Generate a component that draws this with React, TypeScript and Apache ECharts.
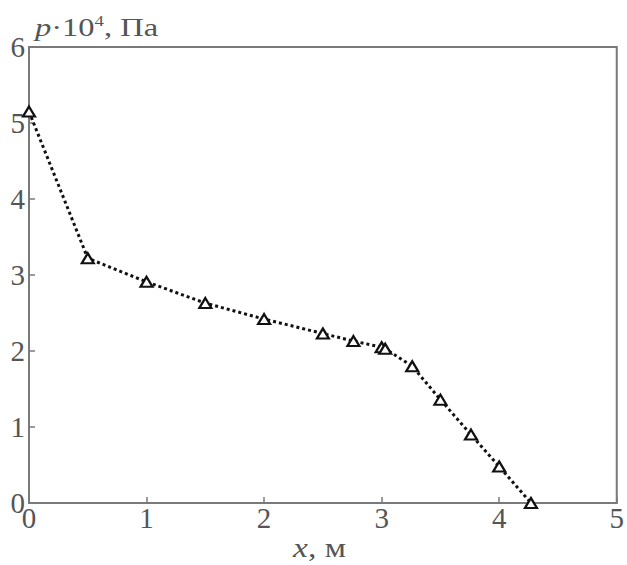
import React, { useEffect, useRef } from "react";
import * as echarts from "echarts";

const xValues = [0, 0.5, 1.0, 1.5, 2.0, 2.5, 2.76, 3.0, 3.03, 3.26, 3.5, 3.76, 4.0, 4.27];
const pValues = [5.15, 3.22, 2.91, 2.63, 2.42, 2.23, 2.13, 2.05, 2.03, 1.8, 1.36, 0.9, 0.48, 0.0];
const xTicks = [0, 1, 2, 3, 4, 5];
const yTicks = [0, 1, 2, 3, 4, 5, 6];

const FONT = "Liberation Serif";
const AXIS = "#7a7a7a";
const LABEL = "#555555";

export default function App() {
  const ref = useRef<HTMLDivElement>(null);
  useEffect(() => {
    if (!ref.current) return;
    const chart = echarts.init(ref.current, null, { renderer: "svg" });
    const data = xValues.map((x, i) => [x, pValues[i]]);
    chart.setOption({
      animation: false,
      backgroundColor: "#ffffff",
      textStyle: { fontFamily: FONT },
      grid: {
        left: 29,
        right: 2,
        top: 47,
        bottom: 62,
        show: true,
        borderColor: AXIS,
        borderWidth: 2,
        backgroundColor: "transparent",
      },
      xAxis: {
        type: "value",
        min: xTicks[0],
        max: xTicks[xTicks.length - 1],
        interval: 1,
        axisLine: { show: true, lineStyle: { color: AXIS, width: 2 } },
        axisTick: { show: true, inside: true, length: 6, lineStyle: { color: AXIS, width: 1.5 } },
        splitLine: { show: false },
        axisLabel: {
          color: LABEL,
          fontFamily: FONT,
          fontSize: 29,
          margin: 0,
        },
      },
      yAxis: {
        type: "value",
        min: yTicks[0],
        max: yTicks[yTicks.length - 1],
        interval: 1,
        axisLine: { show: true, lineStyle: { color: AXIS, width: 2 } },
        axisTick: { show: true, inside: true, length: 6, lineStyle: { color: AXIS, width: 1.5 } },
        splitLine: { show: false },
        axisLabel: {
          color: LABEL,
          fontFamily: FONT,
          fontSize: 29,
          margin: 4,
        },
      },
      graphic: [
        {
          type: "text",
          x: 35,
          y: 14,
          scaleX: 1.25,
          style: {
            text: "{i|p}{n|·10}{s|4}{n|, Па}",
            rich: {
              i: { fontFamily: FONT, fontSize: 26, fontStyle: "italic", fill: LABEL },
              n: { fontFamily: FONT, fontSize: 26, fill: LABEL },
              s: { fontFamily: FONT, fontSize: 15, fill: LABEL, verticalAlign: "top", padding: [0, 0, 10, 0] },
            },
          },
        },
        {
          type: "text",
          x: 293,
          y: 533,
          scaleX: 1.2,
          style: {
            text: "{i|x}{n|, м}",
            rich: {
              i: { fontFamily: FONT, fontSize: 28, fontStyle: "italic", fill: LABEL },
              n: { fontFamily: FONT, fontSize: 28, fill: LABEL },
            },
          },
        },
      ],
      series: [
        {
          type: "line",
          data,
          symbol: "triangle",
          symbolSize: [12, 10],
          showAllSymbol: true,
          itemStyle: { color: "#ffffff", borderColor: "#111111", borderWidth: 2.2 },
          lineStyle: { color: "#111111", width: 3, type: [3, 3], cap: "butt" },
        },
      ],
    });
    return () => chart.dispose();
  }, []);
  return (
    <div
      ref={ref}
      style={{ position: "fixed", left: 0, top: 0, width: 627, height: 565 }}
    />
  );
}
